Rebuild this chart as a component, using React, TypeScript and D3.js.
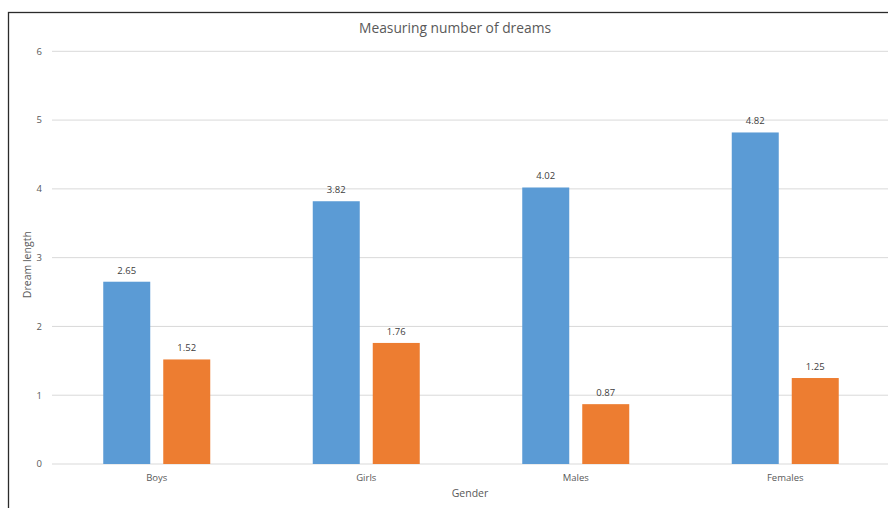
import * as d3 from "d3";

const W = 888;
const H = 508;

const categories = ["Boys", "Girls", "Males", "Females"];
const seriesNames = ["Series1", "Series2"];
const series1 = [2.65, 3.82, 4.02, 4.82];
const series2 = [1.52, 1.76, 0.87, 1.25];
const yTicks = [0, 1, 2, 3, 4, 5, 6];

const COLORS = ["#5B9BD5", "#ED7D31"];
const FONT = "'Open Sans', 'Liberation Sans', sans-serif";

export default function App() {
  const plot = { left: 52, right: 890, top: 51.3, bottom: 464 };

  const y = d3.scaleLinear().domain([0, 6]).range([plot.bottom, plot.top]);
  const x0 = d3.scaleBand<string>().domain(categories).range([plot.left, plot.right]);
  const inner = 107;
  const bw0 = x0.bandwidth();
  const x1 = d3
    .scaleBand<string>()
    .domain(seriesNames)
    .range([(bw0 - inner) / 2, (bw0 + inner) / 2])
    .paddingInner(13 / 60);

  const rows = categories.map((c, i) => ({ cat: c, vals: [series1[i], series2[i]] }));

  return (
    <svg
      width={W}
      height={H}
      style={{ position: "absolute", left: 0, top: 0, background: "#fff" }}
      fontFamily={FONT}
    >
      <rect x={8.5} y={12.5} width={W + 10} height={H + 10} fill="#fff" stroke="#2b2b2b" strokeWidth={1.3} />

      <text x={455} y={33} textAnchor="middle" fontSize={13.8} fill="#595959">
        Measuring number of dreams
      </text>

      {yTicks.map((t) => (
        <g key={t}>
          <line x1={plot.left} x2={W} y1={y(t)} y2={y(t)} stroke="#d9d9d9" strokeWidth={1} />
          <text x={42} y={y(t)} dy="0.35em" textAnchor="end" fontSize={9.5} fill="#595959">
            {t}
          </text>
        </g>
      ))}

      {rows.map((r) => (
        <g key={r.cat} transform={`translate(${x0(r.cat)},0)`}>
          {r.vals.map((v, j) => {
            const bx = x1(seriesNames[j]) ?? 0;
            return (
              <g key={j}>
                <rect x={bx} y={y(v)} width={x1.bandwidth()} height={y(0) - y(v)} fill={COLORS[j]} />
                <text
                  x={bx + x1.bandwidth() / 2}
                  y={y(v) - 8}
                  textAnchor="middle"
                  fontSize={9.5}
                  fill="#404040"
                >
                  {v.toFixed(2)}
                </text>
              </g>
            );
          })}
          <text x={bw0 / 2} y={481} textAnchor="middle" fontSize={9.5} fill="#595959">
            {r.cat}
          </text>
        </g>
      ))}

      <text x={470} y={497} textAnchor="middle" fontSize={10.5} fill="#595959">
        Gender
      </text>
      <text
        transform={`translate(31,${(plot.top + plot.bottom) / 2 + 7}) rotate(-90)`}
        textAnchor="middle"
        fontSize={10.5}
        fill="#595959"
      >
        Dream length
      </text>
    </svg>
  );
}
